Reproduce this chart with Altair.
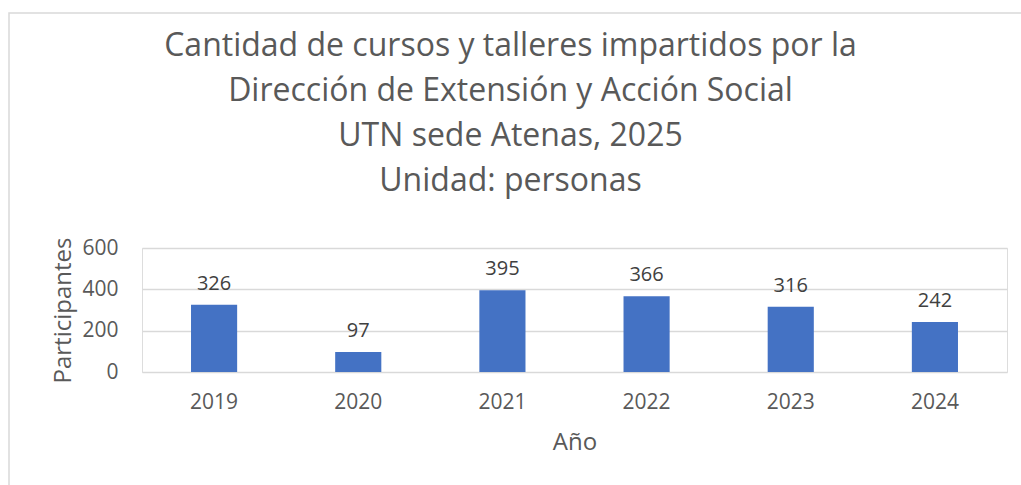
import altair as alt
import pandas as pd

years = ["2019", "2020", "2021", "2022", "2023", "2024"]
participants = [326, 97, 395, 366, 316, 242]

title_lines = [
    "Cantidad de cursos y talleres impartidos por la",
    "Dirección de Extensión y Acción Social",
    "UTN sede Atenas, 2025",
    "Unidad: personas",
]

df = pd.DataFrame({"year": years, "value": participants})

FONT = "Open Sans"
GRAY = "#595959"

base = alt.Chart(df)

x_enc = alt.X(
    "year:N",
    sort=years,
    title="Año",
    scale=alt.Scale(paddingInner=0.68, paddingOuter=0.34),
    axis=alt.Axis(
        labelAngle=0, labelFontSize=21, labelColor=GRAY, labelFont=FONT,
        labelPadding=19, ticks=False, domain=False,
        titleFontSize=24, titleColor=GRAY, titleFont=FONT, titleFontWeight="normal",
        titlePadding=18,
    ),
)
y_enc = alt.Y(
    "value:Q",
    title="Participantes",
    scale=alt.Scale(domain=[0, 600]),
    axis=alt.Axis(
        values=[0, 200, 400, 600], labelFontSize=21, labelColor=GRAY, labelFont=FONT,
        labelPadding=24, ticks=False, domain=False, gridColor="#d9d9d9", gridWidth=1.3,
        titleFontSize=24, titleColor=GRAY, titleFont=FONT, titleFontWeight="normal",
        titlePadding=6,
    ),
)

bars = base.mark_bar(color="#4472C4").encode(x=x_enc, y=y_enc)
labels = base.mark_text(
    baseline="bottom", dy=-11, fontSize=20, font=FONT, color="#404040"
).encode(x=alt.X("year:N", sort=years), y="value:Q", text="value:Q")

border = alt.Chart(pd.DataFrame({"a": [0]})).mark_rect(
    fill=None, stroke="#d9d9d9", strokeWidth=1.5
).encode(
    x=alt.value(-133), x2=alt.value(900), y=alt.value(-235), y2=alt.value(300)
)

chart = alt.layer(border, bars, labels).properties(
    width=865,
    height=124,
    padding={"left": 142, "top": 248, "right": 14, "bottom": 113},
    autosize=alt.AutoSizeParams(type="none"),
    title=alt.TitleParams(
        text=title_lines,
        anchor="middle",
        frame="group",
        dx=-64,
        fontSize=32,
        font=FONT,
        fontWeight="normal",
        color=GRAY,
        lineHeight=45,
        offset=-186,
    ),
).configure_view(stroke=None).configure(background="white")

chart.save("out.html", embed_options={"renderer": "svg", "actions": False})
